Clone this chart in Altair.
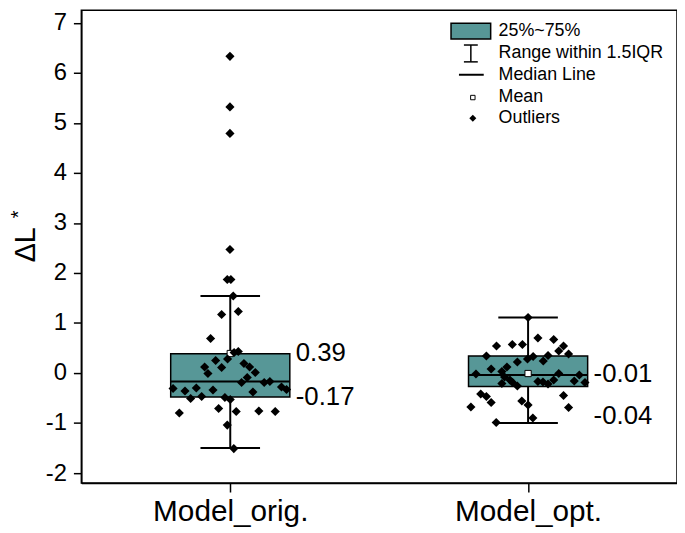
import altair as alt
import pandas as pd

# ---------------- data ----------------
categories = ["Model_orig.", "Model_opt."]

orig_values = [6.33, 5.32, 4.79, 2.47, 1.87, 1.87, 1.54, 1.17, 1.23, 0.69,
               0.43, 0.41, 0.28, 0.25, 0.12, 0.11, 0.19, 0.12, -0.01, 0.01,
               -0.09, -0.19, -0.19, -0.17, -0.31, -0.36, -0.30, -0.34, -0.51, -0.47,
               -0.49, -0.53, -0.38, -0.28, -0.33, -0.80, -0.71, -0.77, -0.76, -0.77,
               -1.04, -1.51]
orig_jitter = [-0.001, -0.001, -0.001, -0.001, -0.010, 0.002, 0.010, -0.029, 0.027, -0.066,
               0.027, 0.013, -0.009, -0.049, -0.086, -0.029, 0.046, 0.065, -0.075, 0.084,
               0.057, 0.038, 0.114, 0.133, -0.192, -0.152, -0.114, -0.058, -0.133, -0.096,
               -0.018, 0.000, 0.076, 0.172, 0.189, -0.171, -0.039, 0.020, 0.096, 0.151,
               -0.010, 0.012]

opt_values = [1.11, 0.54, 0.57, 0.57, 0.70, 0.67, 0.54, 0.44, 0.38, 0.34,
              0.28, 0.33, 0.22, 0.35, 0.24, 0.12, 0.08, 0.03, -0.02, -0.08,
              -0.14, -0.19, -0.21, -0.26, -0.17, -0.18, -0.22, -0.14, -0.01, -0.16,
              -0.04, -0.19, -0.42, -0.47, -0.59, -0.68, -0.56, -0.64, -0.45, -0.69,
              -0.90, -0.99]
opt_jitter = [0.000, -0.106, -0.053, -0.019, 0.033, 0.086, 0.119, 0.103, 0.136, -0.140,
              -0.002, 0.017, -0.036, 0.067, 0.051, -0.071, -0.124, -0.088, -0.175, -0.079,
              -0.061, -0.052, -0.088, -0.036, 0.033, 0.050, 0.067, 0.086, 0.103, 0.155,
              0.172, 0.191, -0.159, -0.140, -0.124, -0.192, -0.021, 0.000, 0.119, 0.136,
              0.016, -0.107]

q1 = [-0.48, -0.27]
q3 = [0.385, 0.34]
median = [-0.17, -0.04]
mean = [0.39, -0.01]
whisker_low = [-1.50, -1.00]
whisker_high = [1.54, 1.11]

label_text = ["0.39", "-0.17", "-0.01", "-0.04"]
label_group = [1, 1, 2, 2]
label_y = [0.39, -0.49, -0.02, -0.87]

legend_labels = ["25%~75%", "Range within 1.5IQR", "Median Line", "Mean", "Outliers"]

# ---------------- tables ----------------
FONT = "Arial, Liberation Sans"
TEAL = "#579797"

pts_df = pd.DataFrame({
    "group": [1] * len(orig_values) + [2] * len(opt_values),
    "value": orig_values + opt_values,
    "jitter": orig_jitter + opt_jitter,
})
box_df = pd.DataFrame({
    "group": [1, 2], "q1": q1, "q3": q3, "median": median, "mean": mean,
    "lo": whisker_low, "hi": whisker_high,
})
lab_df = pd.DataFrame({"group": label_group, "text": label_text, "y": label_y})

xs = alt.Scale(domain=[0.5, 2.5], nice=False, zero=False)
ys = alt.Scale(domain=[-2.2, 7.25], nice=False, zero=False)

label_expr = f"datum.value == 1 ? '{categories[0]}' : '{categories[1]}'"
x_axis = alt.Axis(values=[1, 2], labelExpr=label_expr, title=None, grid=False,
                  tickSize=9, tickWidth=1.5, tickColor="black",
                  domainColor="black", domainWidth=1.5,
                  labelFontSize=30, labelColor="black", labelFont=FONT, labelPadding=5)
y_axis = alt.Axis(values=list(range(-2, 8)), labelExpr="'' + datum.value", title="ΔL", grid=False,
                  tickSize=8, tickWidth=1.5, tickColor="black",
                  domainColor="black", domainWidth=1.5,
                  labelFontSize=24, labelColor="black", labelFont=FONT, labelPadding=7,
                  titleFontSize=29, titleFontWeight="normal", titleFont=FONT, titleColor="black",
                  titleX=-56, titleY=236, titleAlign="center", titleBaseline="middle", titleAngle=270)


def X(f):
    return alt.X(f, type="quantitative", scale=xs, axis=x_axis)


def Y(f):
    return alt.Y(f, type="quantitative", scale=ys, axis=y_axis)


base = alt.Chart(box_df).transform_calculate(
    bl="datum.group - 0.2", br="datum.group + 0.2",
    cl="datum.group - 0.1", cr="datum.group + 0.1")

whisker = base.mark_rule(color="black", strokeWidth=2).encode(x=X("group"), y=Y("lo"), y2="hi")
cap_hi = base.mark_rule(color="black", strokeWidth=2).encode(x=X("cl"), x2="cr", y=Y("hi"))
cap_lo = base.mark_rule(color="black", strokeWidth=2).encode(x=X("cl"), x2="cr", y=Y("lo"))
box = base.mark_rect(fill=TEAL, stroke="black", strokeWidth=1.5).encode(
    x=X("bl"), x2="br", y=Y("q1"), y2="q3")
med = base.mark_rule(color="black", strokeWidth=2).encode(x=X("bl"), x2="br", y=Y("median"))

mean_pt = base.mark_point(shape="square", filled=True, fill="white", stroke="black",
                          strokeWidth=1, size=40, opacity=1).encode(x=X("group"), y=Y("mean"))

points = alt.Chart(pts_df).transform_calculate(px="datum.group + datum.jitter").mark_point(
    shape="diamond", filled=True, color="black", size=85, opacity=1).encode(x=X("px"), y=Y("value"))

labels = alt.Chart(lab_df).transform_calculate(bx="datum.group + 0.2").mark_text(
    align="left", baseline="middle", dx=6, fontSize=26, font=FONT, color="black").encode(
    x=X("bx"), y=Y("y"), text="text:N")

# ---------------- custom legend ----------------
leg = alt.Chart(alt.Data(values=[{"k": 0}]))
legend_layers = [
    leg.mark_rect(fill=TEAL, stroke="black", strokeWidth=1.5).encode(
        x=alt.value(373), x2=alt.value(413), y=alt.value(13), y2=alt.value(29)),
    leg.mark_rule(color="black", strokeWidth=1.5).encode(
        x=alt.value(393), y=alt.value(35), y2=alt.value(52)),
    leg.mark_rule(color="black", strokeWidth=1.5).encode(
        x=alt.value(386), x2=alt.value(400), y=alt.value(35)),
    leg.mark_rule(color="black", strokeWidth=1.5).encode(
        x=alt.value(386), x2=alt.value(400), y=alt.value(52)),
    leg.mark_rule(color="black", strokeWidth=2).encode(
        x=alt.value(381), x2=alt.value(406), y=alt.value(65)),
    leg.mark_point(shape="square", filled=True, fill="white", stroke="black",
                   strokeWidth=1, size=20, opacity=1).encode(x=alt.value(395), y=alt.value(88)),
    leg.mark_point(shape="diamond", filled=True, color="black", size=50, opacity=1).encode(
        x=alt.value(395), y=alt.value(109)),
]
for i, lab in enumerate(legend_labels):
    legend_layers.append(
        leg.mark_text(align="left", baseline="middle", fontSize=18, font=FONT, color="black").encode(
            x=alt.value(421), y=alt.value(21 + 22 * i), text=alt.value(lab)))

# superscript asterisk of the axis title
star = leg.mark_text(fontSize=20, font=FONT, color="black", angle=270).encode(
    x=alt.value(-63), y=alt.value(206), text=alt.value("*"))

chart = alt.layer(
    whisker, cap_hi, cap_lo, box, med, mean_pt, points, labels, star, *legend_layers
).properties(
    width=601, height=477,
    padding={"left": 74, "top": 0, "right": 0, "bottom": 47},
    autosize=alt.AutoSizeParams(type="none"),
).configure_view(stroke="black", strokeWidth=1.5)

chart.save("out.html", embed_options={"renderer": "svg", "actions": False})
